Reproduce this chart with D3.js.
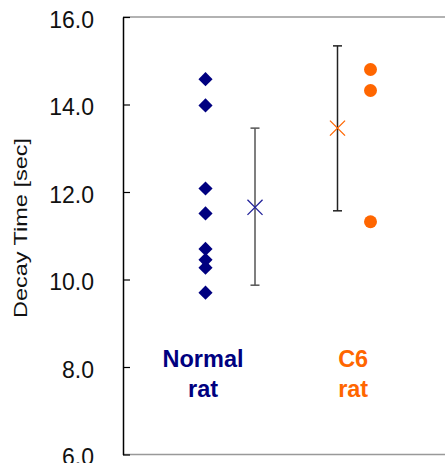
<!DOCTYPE html>
<html lang="en">
<head>
  <meta charset="UTF-8">
  <title>Decay Time</title>
  <script src="https://d3js.org/d3.v7.min.js"></script>
  <style>
    body { margin: 0; background: #fff; }
    svg { display: block; font-family: "Liberation Sans", Arial, sans-serif; }
    .y.axis path { stroke: #000; stroke-width: 1.5px; }
    .y.axis line { stroke: #000; stroke-width: 1.2px; }
    .y.axis text { font-size: 23px; fill: #111; }
  </style>
</head>
<body>
  <script>
    // data
    const normalValues = [14.58, 13.98, 12.08, 11.51, 10.70, 10.45, 10.27, 9.70];
    const c6Values = [14.80, 14.32, 11.32];
    const groups = ["Normal rat", "C6 rat"];
    const groupMean = [11.65, 13.46];
    const groupTop = [13.46, 15.34];     // mean + sd
    const groupBottom = [9.87, 11.57];   // mean - sd
    const yTicks = [6, 8, 10, 12, 14, 16];

    // x slots on a plain linear axis (no axis drawn)
    const pointSlot = [1.0, 3.0];
    const meanSlot = [1.6, 2.6];
    const labelSlot = [0.97, 2.79];

    const width = 445;
    const height = 463;
    const navy = "#000080";
    const orange = "#ff6600";

    const svg = d3.select("body").append("svg")
      .attr("width", width).attr("height", height);

    const x = d3.scaleLinear().domain([0, 4]).range([123, 453]);
    const y = d3.scaleLinear().domain([6, 16]).range([454.5, 17]);

    // frame lines top and bottom
    svg.append("line")
      .attr("x1", x(0)).attr("x2", x(4))
      .attr("y1", y(16)).attr("y2", y(16))
      .attr("stroke", "#999").attr("stroke-width", 1.5);
    svg.append("line")
      .attr("x1", x(0)).attr("x2", x(4))
      .attr("y1", y(6)).attr("y2", y(6))
      .attr("stroke", "#999").attr("stroke-width", 1.5);

    // y axis with ticks pointing inward
    const yAxis = d3.axisLeft(y)
      .tickValues(yTicks)
      .tickFormat(d3.format(".1f"))
      .tickSizeInner(-7)
      .tickSizeOuter(0)
      .tickPadding(29);

    svg.append("g")
      .attr("class", "y axis")
      .attr("transform", `translate(${x(0)},0)`)
      .call(yAxis)
      .call(g => g.selectAll("text").attr("dy", "0.44em"));

    svg.append("text")
      .attr("transform", `translate(27,228) rotate(-90)`)
      .attr("text-anchor", "middle")
      .attr("font-size", 19)
      .attr("textLength", 180)
      .attr("lengthAdjust", "spacingAndGlyphs")
      .attr("fill", "#111")
      .text("Decay Time [sec]");

    // error bars
    const cap = 4.5;
    const barColor = ["#555", "#222"];
    groups.forEach((g, i) => {
      const cx = x(meanSlot[i]);
      const bar = svg.append("g").attr("stroke", barColor[i]).attr("stroke-width", 1.5);
      bar.append("line")
        .attr("x1", cx).attr("x2", cx)
        .attr("y1", y(groupTop[i])).attr("y2", y(groupBottom[i]));
      [groupTop[i], groupBottom[i]].forEach(v => {
        bar.append("line")
          .attr("x1", cx - cap).attr("x2", cx + cap)
          .attr("y1", y(v)).attr("y2", y(v));
      });
    });

    // mean markers (x shape)
    const cross = d3.symbol().type(d3.symbolX).size(150);
    const meanColor = ["#22229a", orange];
    groups.forEach((g, i) => {
      svg.append("path")
        .attr("d", cross())
        .attr("transform", `translate(${x(meanSlot[i])},${y(groupMean[i])})`)
        .attr("fill", "none")
        .attr("stroke", meanColor[i])
        .attr("stroke-width", 1.3);
    });

    // raw points
    svg.selectAll(".diamond")
      .data(normalValues)
      .enter().append("path")
      .attr("class", "diamond")
      .attr("d", d3.symbol().type(d3.symbolSquare).size(100)())
      .attr("transform", d => `translate(${x(pointSlot[0])},${y(d)}) rotate(45)`)
      .attr("fill", navy);

    svg.selectAll(".dot")
      .data(c6Values)
      .enter().append("circle")
      .attr("class", "dot")
      .attr("cx", x(pointSlot[1]))
      .attr("cy", d => y(d))
      .attr("r", 6.5)
      .attr("fill", orange);

    // group labels
    const labelColor = [navy, orange];
    groups.forEach((g, i) => {
      const words = g.split(" ");
      const t = svg.append("text")
        .attr("text-anchor", "middle")
        .attr("font-weight", "bold")
        .attr("font-size", 23.5)
        .attr("fill", labelColor[i]);
      words.forEach((w, j) => {
        t.append("tspan")
          .attr("x", x(labelSlot[i]))
          .attr("y", 367 + j * 30)
          .text(w);
      });
    });
  </script>
</body>
</html>
